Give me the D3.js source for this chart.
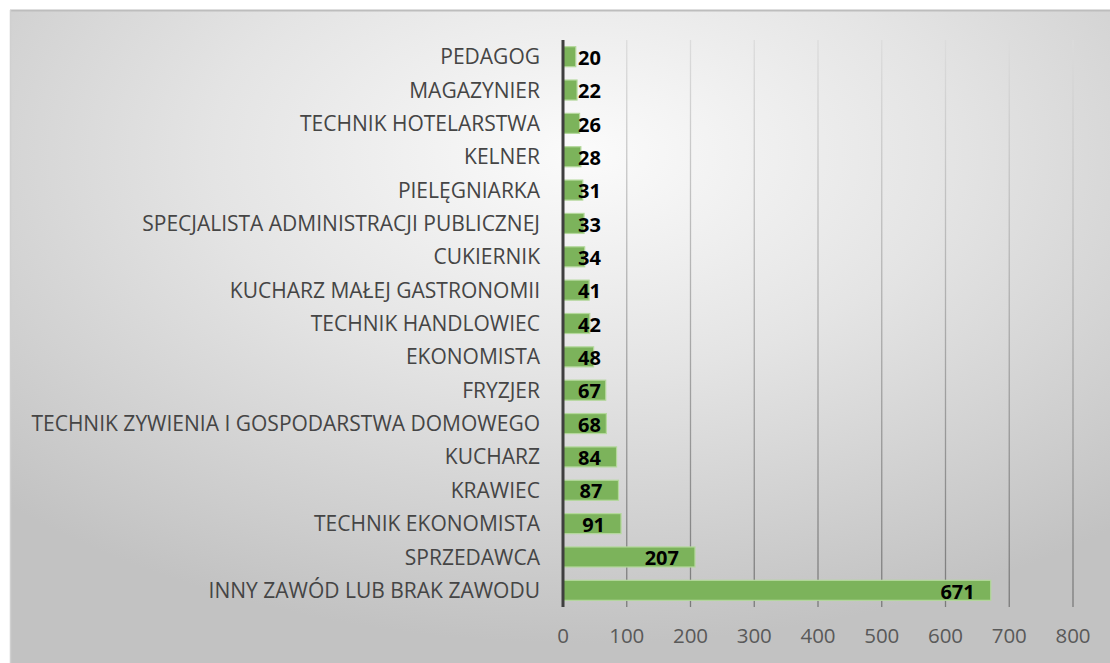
<!DOCTYPE html>
<html>
<head>
<meta charset="utf-8">
<script src="https://cdn.jsdelivr.net/npm/d3@7.9.0/dist/d3.min.js"></script>
<style>
  body { margin: 0; background: #fff; }
  svg { display: block; font-family: "Open Sans", sans-serif; }
</style>
</head>
<body>
<svg id="chart" width="1110" height="663"></svg>
<script>
const categories = [
  "PEDAGOG", "MAGAZYNIER", "TECHNIK HOTELARSTWA", "KELNER", "PIELĘGNIARKA",
  "SPECJALISTA ADMINISTRACJI PUBLICZNEJ", "CUKIERNIK", "KUCHARZ MAŁEJ GASTRONOMII",
  "TECHNIK HANDLOWIEC", "EKONOMISTA", "FRYZJER",
  "TECHNIK ZYWIENIA I GOSPODARSTWA DOMOWEGO", "KUCHARZ", "KRAWIEC",
  "TECHNIK EKONOMISTA", "SPRZEDAWCA", "INNY ZAWÓD LUB BRAK ZAWODU"
];
const values = [20, 22, 26, 28, 31, 33, 34, 41, 42, 48, 67, 68, 84, 87, 91, 207, 671];
const ticks = [0, 100, 200, 300, 400, 500, 600, 700, 800];

const svg = d3.select("#chart");
const defs = svg.append("defs");

let bg = defs.append("radialGradient").attr("id", "bg")
  .attr("cx", "52%").attr("cy", "22%").attr("r", "75%");
bg.append("stop").attr("offset", "0%").attr("stop-color", "#fbfbfb");
bg.append("stop").attr("offset", "45%").attr("stop-color", "#e4e4e4");
bg.append("stop").attr("offset", "100%").attr("stop-color", "#c2c2c2");

let gridGrad = defs.append("linearGradient").attr("id", "gridGrad")
  .attr("gradientUnits", "userSpaceOnUse")
  .attr("x1", 0).attr("y1", 40).attr("x2", 0).attr("y2", 607);
gridGrad.append("stop").attr("offset", "0%").attr("stop-color", "#dcdcdc");
gridGrad.append("stop").attr("offset", "100%").attr("stop-color", "#7a7a7a");

// chart background + border
svg.append("rect")
  .attr("x", 10).attr("y", 10).attr("width", 1100).attr("height", 653)
  .attr("fill", "url(#bg)");
svg.append("line").attr("x1", 10).attr("x2", 1110).attr("y1", 10.5).attr("y2", 10.5)
  .attr("stroke", "#bdbdbd").attr("stroke-width", 2);
svg.append("line").attr("x1", 10.5).attr("x2", 10.5).attr("y1", 10).attr("y2", 663)
  .attr("stroke", "#d0d0d0").attr("stroke-width", 1.5);

const x = d3.scaleLinear().domain([0, 800]).range([563, 1073]);
const y = d3.scaleBand().domain(categories).range([40, 607]).paddingInner(0.4).paddingOuter(0.2);

// gridlines
svg.append("g").selectAll("line")
  .data(ticks.slice(1))
  .join("line")
  .attr("x1", d => x(d)).attr("x2", d => x(d))
  .attr("y1", 40).attr("y2", 607)
  .attr("stroke", "url(#gridGrad)").attr("stroke-width", 1.3);

// bars
svg.append("g").selectAll("rect")
  .data(values)
  .join("rect")
  .attr("x", x(0))
  .attr("y", (d, i) => y(categories[i]))
  .attr("width", d => x(d) - x(0))
  .attr("height", y.bandwidth())
  .attr("fill", "#7cb35b")
  .attr("stroke", "#b4d89c")
  .attr("stroke-width", 1.2);

// vertical axis line
svg.append("line")
  .attr("x1", x(0)).attr("x2", x(0)).attr("y1", 40).attr("y2", 607)
  .attr("stroke", "#3f3f3f").attr("stroke-width", 3);

// category labels
svg.append("g").selectAll("text")
  .data(categories)
  .join("text")
  .attr("x", 540)
  .attr("y", d => y(d) + y.bandwidth() / 2)
  .attr("dy", "0.36em")
  .attr("text-anchor", "end")
  .attr("fill", "#454545")
  .style("font-size", "21px")
  .text(d => d);

// tick labels
svg.append("g").selectAll("text")
  .data(ticks)
  .join("text")
  .attr("x", d => x(d))
  .attr("y", 636)
  .attr("dy", "0.36em")
  .attr("text-anchor", "middle")
  .attr("fill", "#595959")
  .style("font-size", "20.5px")
  .text(d => d);

// value labels (inside end, clamped near base)
const vl = svg.append("g").selectAll("text")
  .data(values)
  .join("text")
  .attr("y", (d, i) => y(categories[i]) + y.bandwidth() / 2 + 1)
  .attr("dy", "0.36em")
  .attr("text-anchor", "end")
  .attr("fill", "#000")
  .style("font-size", "20px")
  .style("font-weight", "bold")
  .text(d => d);
vl.attr("x", function (d) {
  const w = this.getComputedTextLength();
  return Math.max(x(d) - 16, x(0) + 15 + w);
});
</script>
</body>
</html>
